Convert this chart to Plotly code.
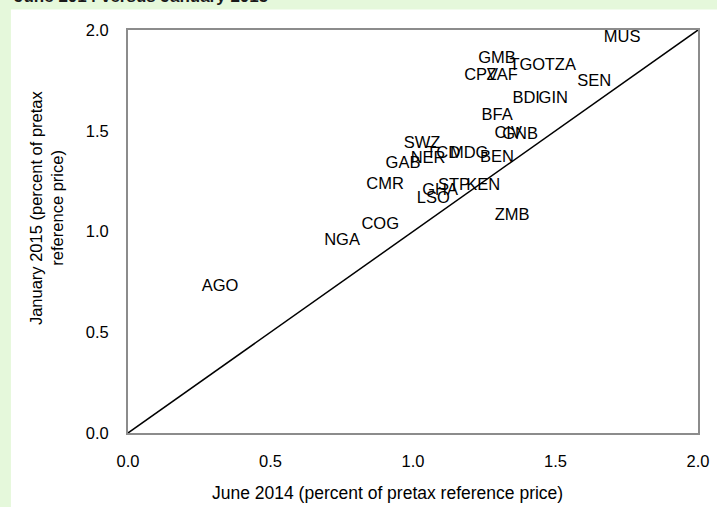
import plotly.graph_objects as go

# country codes, June 2014 (x) vs January 2015 (y)
countries = ["MUS", "GMB", "TGO", "TZA", "CPV", "ZAF", "SEN", "BDI", "GIN",
             "BFA", "CIV", "GNB", "BEN", "KEN", "SWZ", "NER", "TCD", "MDG",
             "GAB", "CMR", "GHA", "STP", "LSO", "COG", "ZMB", "NGA", "AGO"]
june_2014 = [1.734, 1.295, 1.401, 1.517, 1.239, 1.313, 1.636, 1.397, 1.492,
             1.295, 1.334, 1.376, 1.295, 1.246, 1.032, 1.053, 1.106, 1.197,
             0.965, 0.902, 1.095, 1.144, 1.071, 0.885, 1.348, 0.751, 0.323]
jan_2015 = [1.963, 1.859, 1.824, 1.824, 1.770, 1.770, 1.745, 1.656, 1.656,
            1.576, 1.483, 1.478, 1.364, 1.225, 1.437, 1.358, 1.383, 1.383,
            1.334, 1.230, 1.200, 1.225, 1.160, 1.035, 1.077, 0.952, 0.724]
diag = [0, 2]
ticks = [0.0, 0.5, 1.0, 1.5, 2.0]

FONT = "Liberation Sans, Arial"
SIZE = 16.5
GREEN = "#E5F8DB"
GREY = "#8C8C8C"

fig = go.Figure()

fig.add_trace(go.Scatter(x=diag, y=diag, mode="lines",
                         line=dict(color="black", width=1.5), hoverinfo="skip"))
fig.add_trace(go.Scatter(x=june_2014, y=jan_2015, mode="text", text=countries,
                         textposition="middle center",
                         textfont=dict(family=FONT, size=SIZE, color="black")))

fig.add_vline(x=1, line=dict(color=GREY, width=2), layer="below")
fig.add_hline(y=1, line=dict(color=GREY, width=2), layer="below")

# white panel behind the chart
fig.add_shape(type="rect", xref="paper", yref="paper",
              x0=-0.2054, x1=1.05, y0=-0.2, y1=1.0508,
              fillcolor="white", line=dict(width=0), layer="below")

fig.update_layout(
    width=717, height=507,
    margin=dict(l=128, r=19, t=30, b=74),
    paper_bgcolor=GREEN, plot_bgcolor="white",
    showlegend=False,
    font=dict(family=FONT, size=SIZE, color="black"),
    annotations=[
        dict(text="<b>June 2014 versus January 2015</b>", xref="paper", yref="paper",
             x=-0.203, y=1.083, xanchor="left", yanchor="middle", showarrow=False,
             font=dict(family=FONT, size=17, color="#1a1a1a")),
        dict(text="June 2014 (percent of pretax reference price)", xref="paper",
             yref="paper", x=0.456, y=-0.149, xanchor="center", yanchor="middle",
             showarrow=False, font=dict(family=FONT, size=17.5)),
        dict(text="January 2015 (percent of pretax", xref="paper", yref="paper",
             x=-0.16, y=0.56, textangle=-90, xanchor="center", yanchor="middle",
             showarrow=False, font=dict(family=FONT, size=SIZE)),
        dict(text="reference price)", xref="paper", yref="paper",
             x=-0.124, y=0.56, textangle=-90, xanchor="center", yanchor="middle",
             showarrow=False, font=dict(family=FONT, size=SIZE)),
    ],
)

fig.update_xaxes(range=[0, 2], tickvals=ticks, tickformat=".1f", showgrid=False,
                 zeroline=False, showline=True, mirror=True, linecolor=GREY,
                 linewidth=2, ticks="", ticklabelstandoff=12, automargin=False,
                 tickfont=dict(family=FONT, size=SIZE))
fig.update_yaxes(range=[0, 2], tickvals=ticks, tickformat=".1f", showgrid=False,
                 zeroline=False, showline=True, mirror=True, linecolor=GREY,
                 linewidth=2, ticks="", ticklabelstandoff=14, automargin=False,
                 tickfont=dict(family=FONT, size=SIZE))

fig.write_html("out.html", config={"displayModeBar": False},
               post_script="document.body.style.margin='0';"
                           "document.body.style.overflow='hidden';")
